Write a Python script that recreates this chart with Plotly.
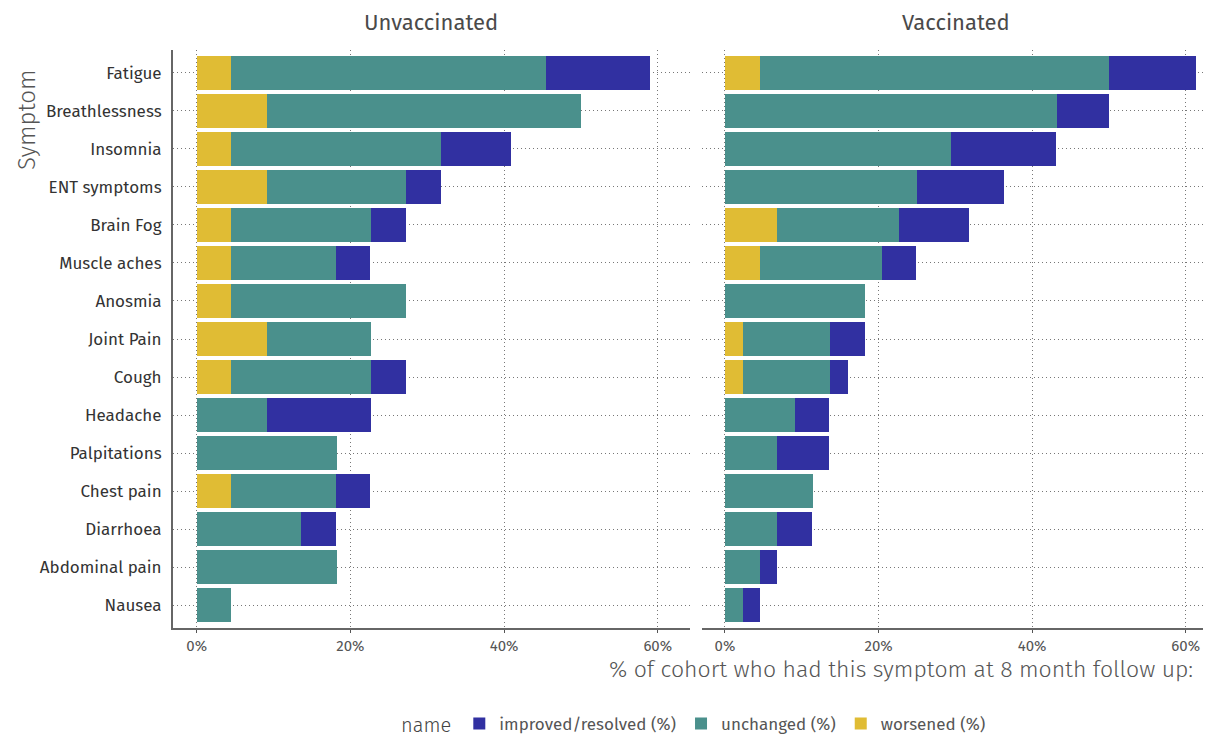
import plotly.graph_objects as go

symptoms = ["Fatigue", "Breathlessness", "Insomnia", "ENT symptoms", "Brain Fog",
            "Muscle aches", "Anosmia", "Joint Pain", "Cough", "Headache",
            "Palpitations", "Chest pain", "Diarrhoea", "Abdominal pain", "Nausea"]

# Unvaccinated (%)
unvacc_worsened = [4.5, 9.1, 4.5, 9.1, 4.5, 4.5, 4.5, 9.1, 4.5, 0, 0, 4.5, 0, 0, 0]
unvacc_unchanged = [40.9, 40.9, 27.3, 18.2, 18.2, 13.6, 22.7, 13.6, 18.2, 9.1, 18.2, 13.6, 13.6, 18.2, 4.5]
unvacc_improved = [13.6, 0, 9.1, 4.5, 4.5, 4.5, 0, 0, 4.5, 13.6, 0, 4.5, 4.5, 0, 0]

# Vaccinated (%)
vacc_worsened = [4.5, 0, 0, 0, 6.8, 4.5, 0, 2.3, 2.3, 0, 0, 0, 0, 0, 0]
vacc_unchanged = [45.5, 43.2, 29.5, 25.0, 15.9, 15.9, 18.2, 11.4, 11.4, 9.1, 6.8, 11.4, 6.8, 4.5, 2.3]
vacc_improved = [11.4, 6.8, 13.6, 11.4, 9.1, 4.5, 0, 4.5, 2.3, 4.5, 6.8, 0, 4.5, 2.3, 2.3]

x_tick_vals = [0, 20, 40, 60]
x_tick_text = ["0%", "20%", "40%", "60%"]

series_names = ["worsened (%)", "unchanged (%)", "improved/resolved (%)"]
colors = {"worsened (%)": "#E0BC34", "unchanged (%)": "#4A908C", "improved/resolved (%)": "#3130A1"}

FONT = "Fira Sans, Open Sans, sans-serif"

fig = go.Figure()

panels = [
    ("x", "y", [unvacc_worsened, unvacc_unchanged, unvacc_improved], True),
    ("x2", "y", [vacc_worsened, vacc_unchanged, vacc_improved], False),
]
for xa, ya, vals, showleg in panels:
    for name, v in zip(series_names, vals):
        fig.add_trace(go.Bar(
            y=symptoms, x=v, orientation="h", name=name,
            marker=dict(color=colors[name], line=dict(width=0)),
            width=0.9, xaxis=xa, yaxis=ya, showlegend=showleg,
            legendgroup=name,
        ))

grid = dict(showgrid=True, gridcolor="#777", griddash="1px,3px", gridwidth=1)
xcommon = dict(tickvals=x_tick_vals, ticktext=x_tick_text, showline=True, linecolor="#666",
               linewidth=2, ticks="outside", ticklen=3, tickcolor="#555",
               tickfont=dict(size=15, color="#555"), zeroline=False, **grid)

fig.update_layout(
    width=1203, height=731,
    barmode="stack",
    plot_bgcolor="white", paper_bgcolor="white",
    margin=dict(l=165, r=0, t=42, b=111, autoexpand=False),
    font=dict(family=FONT, color="#444"),
    xaxis=dict(domain=[0, 0.4981], range=[-3.08, 64.2], **xcommon),
    xaxis2=dict(domain=[0.5096, 1], range=[-3.0, 63.3], **xcommon),
    yaxis=dict(categoryorder="array", categoryarray=symptoms, range=[14.6, -0.6],
               showline=True, linecolor="#666", linewidth=2, ticks="outside", ticklen=6,
               tickcolor="rgba(0,0,0,0)", tickfont=dict(size=17, color="#333"), **grid),
    legend=dict(orientation="h", x=0.503, xanchor="center", y=-0.197, yanchor="bottom",
                traceorder="reversed", font=dict(size=17, color="#555"),
                title=dict(text="name", side="left", font=dict(size=20, color="#444", weight=300))),
    annotations=[
        dict(text="Unvaccinated", x=0.249, y=1.048, xref="paper", yref="paper",
             xanchor="center", yanchor="middle", showarrow=False, font=dict(size=22, color="#4a4a4a")),
        dict(text="Vaccinated", x=0.7548, y=1.048, xref="paper", yref="paper",
             xanchor="center", yanchor="middle", showarrow=False, font=dict(size=22, color="#4a4a4a")),
        dict(text="% of cohort who had this symptom at 8 month follow up:", x=0.9846, y=-0.071,
             xref="paper", yref="paper", xanchor="right", yanchor="middle", showarrow=False,
             font=dict(size=23, color="#555", weight=300)),
        dict(text="Symptom", x=-0.1407, y=0.879, xref="paper", yref="paper", textangle=-90,
             xanchor="center", yanchor="middle", showarrow=False, font=dict(size=24, color="#555", weight=300)),
    ],
)

fig.write_html("out.html")
